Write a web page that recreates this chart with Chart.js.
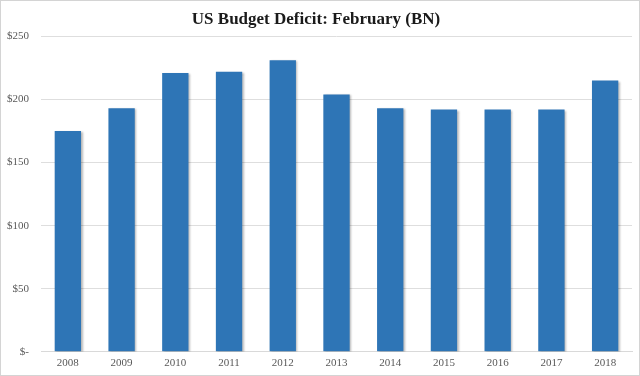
<!DOCTYPE html>
<html>
<head>
<meta charset="utf-8">
<script src="https://cdn.jsdelivr.net/npm/chart.js@4/dist/chart.umd.min.js"></script>
<style>
  html, body { margin: 0; padding: 0; background: #ffffff; }
  #wrap { width: 640px; height: 376px; position: relative; }
</style>
</head>
<body>
<div id="wrap"><canvas id="c" width="640" height="376"></canvas></div>
<script>
const titleText = 'US Budget Deficit: February (BN)';
const years = ['2008', '2009', '2010', '2011', '2012', '2013', '2014', '2015', '2016', '2017', '2018'];
const deficit = [175, 193, 221, 222, 231, 204, 193, 192, 192, 192, 215];
const yTicks = [0, 50, 100, 150, 200, 250];

const shadowPlugin = {
  id: 'barShadow',
  beforeDatasetsDraw(chart) {
    const ctx = chart.ctx;
    ctx.save();
    ctx.shadowColor = 'rgba(0,0,0,0.28)';
    ctx.shadowBlur = 2;
    ctx.shadowOffsetX = 1.5;
    ctx.shadowOffsetY = 1;
  },
  afterDatasetsDraw(chart) {
    chart.ctx.restore();
  }
};

const framePlugin = {
  id: 'frame',
  afterDraw(chart) {
    const ctx = chart.ctx;
    ctx.save();
    ctx.strokeStyle = '#d4d4d4';
    ctx.lineWidth = 1;
    ctx.strokeRect(0.5, 0.5, chart.width - 1, chart.height - 1);
    ctx.restore();
  }
};

new Chart(document.getElementById('c'), {
  type: 'bar',
  data: {
    labels: years,
    datasets: [{
      data: deficit,
      backgroundColor: '#2e75b6',
      borderWidth: 0,
      categoryPercentage: 1.0,
      barPercentage: 0.49
    }]
  },
  options: {
    responsive: false,
    animation: false,
    devicePixelRatio: 1,
    layout: { padding: { left: 0, right: 8, top: 0, bottom: 1 } },
    plugins: {
      legend: { display: false },
      tooltip: { enabled: false },
      title: {
        display: true,
        text: titleText,
        color: '#1a1a1a',
        font: { family: 'Liberation Serif', size: 17, weight: 'bold' },
        padding: { top: 9, bottom: 7 }
      }
    },
    scales: {
      x: {
        grid: { display: false, drawTicks: false },
        border: { display: true, color: '#d9d9d9' },
        ticks: {
          color: '#595959',
          font: { family: 'Liberation Serif', size: 11 },
          padding: 5,
          maxRotation: 0
        }
      },
      y: {
        min: 0,
        max: 250,
        afterBuildTicks(axis) {
          axis.ticks = yTicks.map(v => ({ value: v }));
        },
        afterFit(axis) { axis.width = 41; },
        grid: { color: '#dedede', drawTicks: false },
        border: { display: false },
        ticks: {
          color: '#595959',
          font: { family: 'Liberation Serif', size: 11 },
          padding: 12,
          callback: v => v === 0 ? '$-' : '$' + v
        }
      }
    }
  },
  plugins: [shadowPlugin, framePlugin]
});
</script>
</body>
</html>
